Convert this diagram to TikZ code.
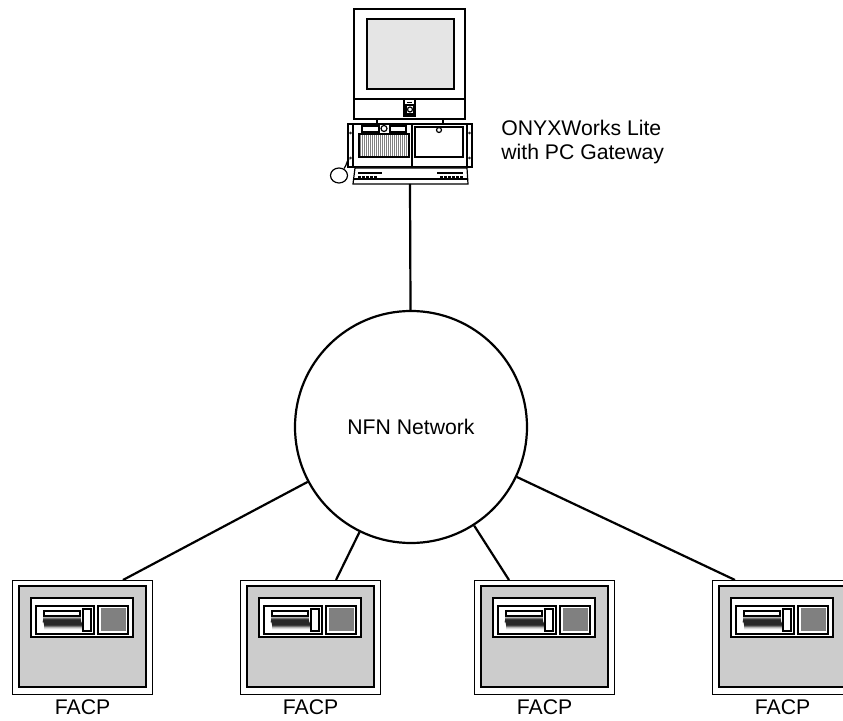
\documentclass[tikz,border=0pt]{standalone}
\usepackage{fontspec}
\setmainfont{Liberation Sans}
\usetikzlibrary{calc,decorations.pathmorphing}

\begin{document}
\begin{tikzpicture}[x=0.5pt, y=-0.5pt]
    \tikzstyle{every node}=[font=\fontsize{10.6}{12}\selectfont]
    \tikzstyle{wire}=[line width=1.1pt]
    \tikzstyle{thick line}=[line width=1.2pt]
    \tikzstyle{thin line}=[line width=0.6pt]
    \tikzstyle{panel}=[draw, rectangle, fill=white, line width=0.6pt,
        minimum width=70pt, minimum height=57pt, anchor=north west, inner sep=0]
    \useasboundingbox (0,0) rectangle (843,721);
    \clip (0,0) rectangle (843,721);

    % monitor
    \draw[thick line, fill=white] (354,9) rectangle (465,119);
    \draw[thick line, fill=gray!20] (367,19) rectangle (454,89);
    \draw[thick line] (354,99) -- (465,99);
    \draw[thin line] (404,99) rectangle (415,116);
    \draw[thin line] (407,102.5) -- (412,102.5);
    \draw[thin line] (406,105) rectangle (414,114);
    \draw[thin line] (410,109.5) circle (2.5);
    \draw[thin line] (377,119) -- (377,124) (443,119) -- (443,124);

    % system unit
    \draw[thick line, fill=white] (348,124) rectangle (472,167);
    \draw[thin line] (353,124) -- (353,167) (467,124) -- (467,167);
    \draw[thin line] (412,124) -- (412,168);
    \foreach \y in {133,158} {
        \draw[line width=0.3pt] (350.5,\y) circle (1);
        \draw[line width=0.3pt] (469.5,\y) circle (1);
    }
    \draw[thin line] (362,126) rectangle (379,132);
    \draw[thin line] (390,126) rectangle (406,132);
    \draw[thin line] (384,128.5) circle (3);
    \foreach \x in {360,362,...,408}
        \draw[gray, line width=0.4pt] (\x,134) -- (\x,157);
    \draw[thick line] (359,134) rectangle (409,157);
    \draw[thick line] (415,127) rectangle (463,157);
    \draw[thin line] (439,130) circle (2.5);

    % keyboard and mouse
    \draw[thin line, fill=white] (355,168) -- (467,168) -- (468,184) -- (353,184) -- cycle;
    \draw[thin line] (354,179) -- (468,179);
    \fill (358,172) rectangle (382,174.5);
    \fill (437,172) rectangle (463,174);
    \foreach \x in {358,362,...,374} \fill (\x,176) rectangle +(2.5,2.5);
    \foreach \x in {440,444,...,460} \fill (\x,176) rectangle +(2.5,2.5);
    \coordinate (kbd) at (410,184);
    \draw[thin line, fill=white] (339,175.5) ellipse (8.5 and 7.5);
    \draw[thin line] (344,168.5) .. controls (347,165) and (346,162) .. (349,159);

    \node[anchor=north west, inner sep=0, align=left] (pclabel) at (501,120)
        {ONYXWorks Lite\\with PC Gateway};

    % network
    \node[draw, circle, wire, minimum size=116pt, inner sep=0] (net) at (411,427) {NFN Network};
    \draw[wire] (kbd) -- (net);

    % control panels
    \foreach \n/\x/\t in {1/12/111, 2/240/96, 3/474/35, 4/712/23} {
        \begin{scope}[shift={(\x,580)}]
            \node[panel] (facp\n) at (0,0) {};
            \draw[thin line, fill=gray!40] (7,6) rectangle (134,107);
            \draw[thin line, fill=white] (19,18) rectangle (121,57);
            \draw[thin line] (24,26) rectangle (82,54);
            \draw[thin line] (32,31) rectangle (68,36);
            \draw[line width=0.9pt, black!85, decorate,
                decoration={zigzag, segment length=1pt, amplitude=1.2pt}] (31.5,42.5) -- (69.5,42.5);
            \draw[thin line] (71,29) rectangle (79,51);
            \draw[thin line] (86,26) rectangle (116,54);
            \fill[gray] (89,28.5) rectangle (114,51.5);
            \coordinate (top\n) at (\t,0);
        \end{scope}
        \node[anchor=north, inner sep=0] at ([yshift=-2pt]facp\n.south) {FACP};
        \draw[wire] (net) -- (top\n);
    }
\end{tikzpicture}
\end{document}
